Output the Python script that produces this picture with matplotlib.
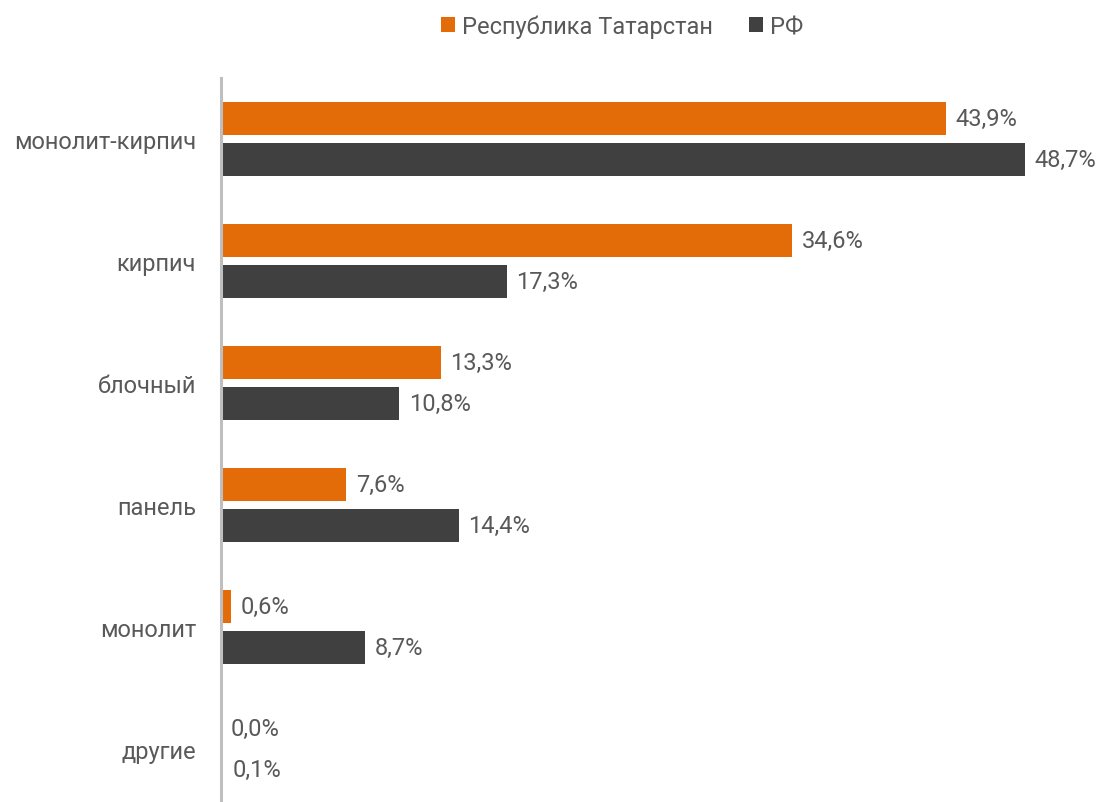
import numpy as np
import matplotlib
matplotlib.use('Agg')
import matplotlib.pyplot as plt

plt.rcParams['font.family'] = ['Roboto', 'DejaVu Sans']

categories = ['монолит-кирпич', 'кирпич', 'блочный', 'панель', 'монолит', 'другие']
tatarstan = [43.9, 34.6, 13.3, 7.6, 0.6, 0.0]
rf = [48.7, 17.3, 10.8, 14.4, 8.7, 0.1]
series_names = ['Республика Татарстан', 'РФ']

ORANGE = '#E36C09'
DARK = '#404040'
TEXT = '#595959'
FS = 17

fig = plt.figure(figsize=(10.99, 8.03), dpi=100)
ax = fig.add_axes([221 / 1099, 0, 1 - 221 / 1099, 1 - 79 / 803])

y = np.arange(len(categories))
h = 0.27
off = 0.166
b1 = ax.barh(y - off, tatarstan, height=h, color=ORANGE, label=series_names[0])
b2 = ax.barh(y + off, rf, height=h, color=DARK, label=series_names[1])

for bars, vals in [(b1, tatarstan), (b2, rf)]:
    for bar, v in zip(bars, vals):
        ax.annotate(f'{v:.1f}%'.replace('.', ','),
                    (bar.get_width(), bar.get_y() + bar.get_height() / 2),
                    xytext=(7, 0), textcoords='offset points',
                    va='center', ha='left', fontsize=FS, color=TEXT)

ax.set_xlim(0, (1099 - 221) / 16.51)
ax.set_ylim(5.5 - 8 / 122, -0.5)
ax.set_yticks(y)
ax.set_yticklabels(categories, fontsize=FS, color=TEXT)
ax.tick_params(axis='y', length=0, pad=18)
ax.set_xticks([])
for s in ['top', 'right', 'bottom']:
    ax.spines[s].set_visible(False)
ax.spines['left'].set_color('#BFBFBF')
ax.spines['left'].set_linewidth(2.2)

fig.legend(handles=[b1, b2], loc='center', bbox_to_anchor=(0.566, 0.966),
           ncol=2, frameon=False, fontsize=FS, labelcolor=TEXT,
           handlelength=0.6, handleheight=0.6, handletextpad=0.3, columnspacing=1.5)

fig.savefig('out.png', dpi=100)
